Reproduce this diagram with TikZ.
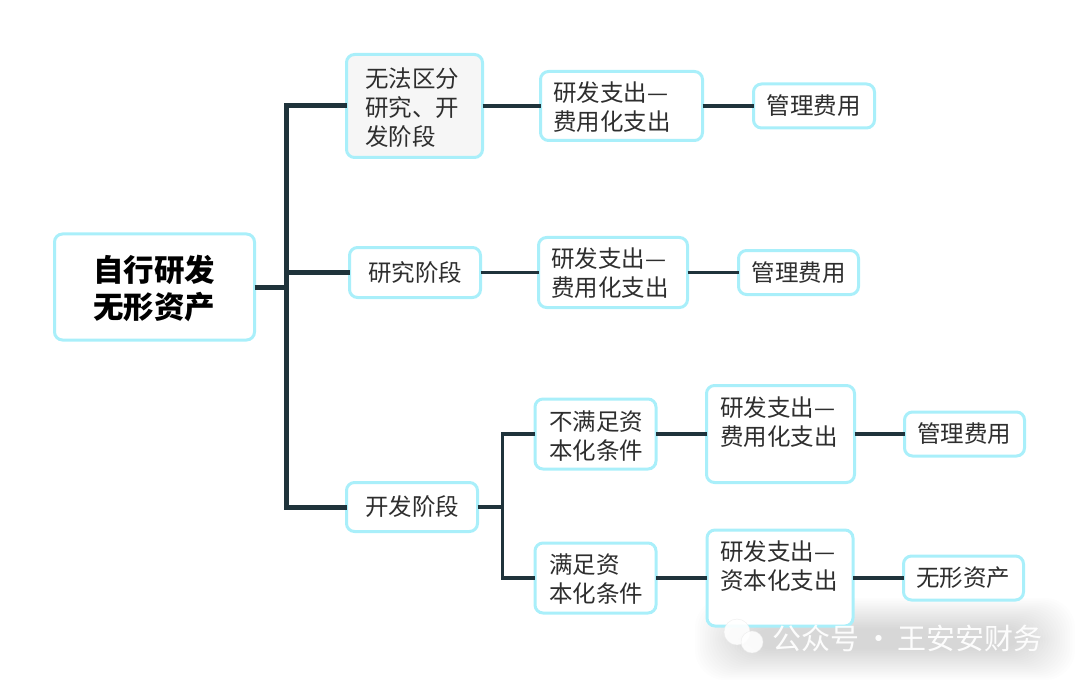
\documentclass[tikz,border=0pt]{standalone}
\usepackage{fontspec}
\setmainfont{Noto Sans CJK SC}
\newfontfamily\cjk{Noto Sans CJK SC}
\definecolor{bordc}{HTML}{A9EFFA}
\definecolor{linec}{HTML}{1F333B}
\definecolor{txtc}{HTML}{2E2E2E}
\definecolor{grayfill}{HTML}{F6F6F6}
\begin{document}
\begin{tikzpicture}[x=1pt,y=-1pt,
  box/.style={draw=bordc,line width=3pt,rounded corners=8pt,fill=white,inner sep=0pt,outer sep=0pt},
  txt/.style={inner sep=0pt,outer sep=0pt,text=txtc,align=left,font=\cjk\fontsize{23.5}{29}\selectfont},
  roottxt/.style={inner sep=0pt,text=black,align=center,font=\cjk\bfseries\fontsize{30.5}{37}\selectfont},
  thick line/.style={draw=linec,line width=5pt},
  thin line/.style={draw=linec,line width=3.5pt}]
\useasboundingbox (0,0) rectangle (1080,682);
% watermark shadow (behind)
\foreach \i in {0,...,19}{
  \fill[black,opacity=0.006,rounded corners=30pt] (695+2.5*\i,598+1.6*\i) rectangle (1075-2.5*\i,680-1.6*\i);
}
% boxes
\node[box,minimum width=200pt,minimum height=106pt] (root) at (154.5,287) {};
\node[box,fill=grayfill,minimum width=136pt,minimum height=103pt] (b1) at (414.5,106) {};
\node[box,minimum width=131pt,minimum height=50pt] (b2) at (415,272.5) {};
\node[box,minimum width=131pt,minimum height=49pt] (b3) at (412,507) {};
\node[box,minimum width=162pt,minimum height=69pt] (c1) at (621.5,106) {};
\node[box,minimum width=149pt,minimum height=70pt] (c2) at (613,272.5) {};
\node[box,minimum width=121pt,minimum height=44pt] (d1) at (814,106) {};
\node[box,minimum width=120pt,minimum height=44pt] (d2) at (798.5,272.5) {};
\node[box,minimum width=121pt,minimum height=70pt] (e1) at (595.5,434) {};
\node[box,minimum width=121pt,minimum height=70pt] (e2) at (595.5,578) {};
\node[box,minimum width=148pt,minimum height=97pt] (f1) at (780.5,434) {};
\node[box,minimum width=146pt,minimum height=96pt] (f2) at (780,578) {};
\node[box,minimum width=120pt,minimum height=44pt] (g1) at (964.5,434) {};
\node[box,minimum width=120pt,minimum height=44pt] (g2) at (963.5,578) {};
% texts
\node[roottxt] (troot) at (154,288.5) {自行研发\\无形资产};
\node[txt,anchor=west] (tb1) at (365,107.5) {无法区分\\研究、开\\发阶段};
\node[txt] (tb2) at (415,273) {研究阶段};
\node[txt] (tb3) at (412,507) {开发阶段};
\node[txt,anchor=west] (tc1) at (553,107.5) {研发支出—\\费用化支出};
\node[txt,anchor=west] (tc2) at (551,273.5) {研发支出—\\费用化支出};
\node[txt] (td1) at (813.5,106) {管理费用};
\node[txt] (td2) at (798.5,272.5) {管理费用};
\node[txt,anchor=west] (te1) at (549,436) {不满足资\\本化条件};
\node[txt,anchor=west] (te2) at (549,579) {满足资\\本化条件};
\node[txt,anchor=west] (tf1) at (720,422.5) {研发支出—\\费用化支出};
\node[txt,anchor=west] (tf2) at (720,566.5) {研发支出—\\资本化支出};
\node[txt] (tg1) at (964,434) {管理费用};
\node[txt] (tg2) at (963,578) {无形资产};
% connectors
\coordinate (s1) at (286,287);
\coordinate (s2) at (502.5,507);
\draw[thick line] (root.east) -- (s1);
\draw[thick line] (b1.west) -| (s1) |- (b3.west);
\draw[thick line] (s1 |- b2.west) -- (b2.west);
\draw[thin line] (b1.east) -- (c1.west);
\draw[thin line] (c1.east) -- (d1.west);
\draw[thin line] (b2.east) -- (c2.west);
\draw[thin line] (c2.east) -- (d2.west);
\draw[thin line] (b3.east) -- (s2);
\draw[thin line] (e1.west) -| (s2) |- (e2.west);
\draw[thin line] (e1.east) -- (f1.west);
\draw[thin line] (f1.east) -- (g1.west);
\draw[thin line] (e2.east) -- (f2.west);
\draw[thin line] (f2.east) -- (g2.west);
% watermark
\fill[white,opacity=0.9,draw=black!8] (737,632) circle (13pt);
\fill[white,opacity=0.9,draw=black!8] (752,642) circle (11pt);
\node[inner sep=0pt,text=white,opacity=0.95,font=\cjk\fontsize{29}{29}\selectfont,anchor=west] (wm) at (772,638) {公众号\,·\,王安安财务};
\end{tikzpicture}
\end{document}
